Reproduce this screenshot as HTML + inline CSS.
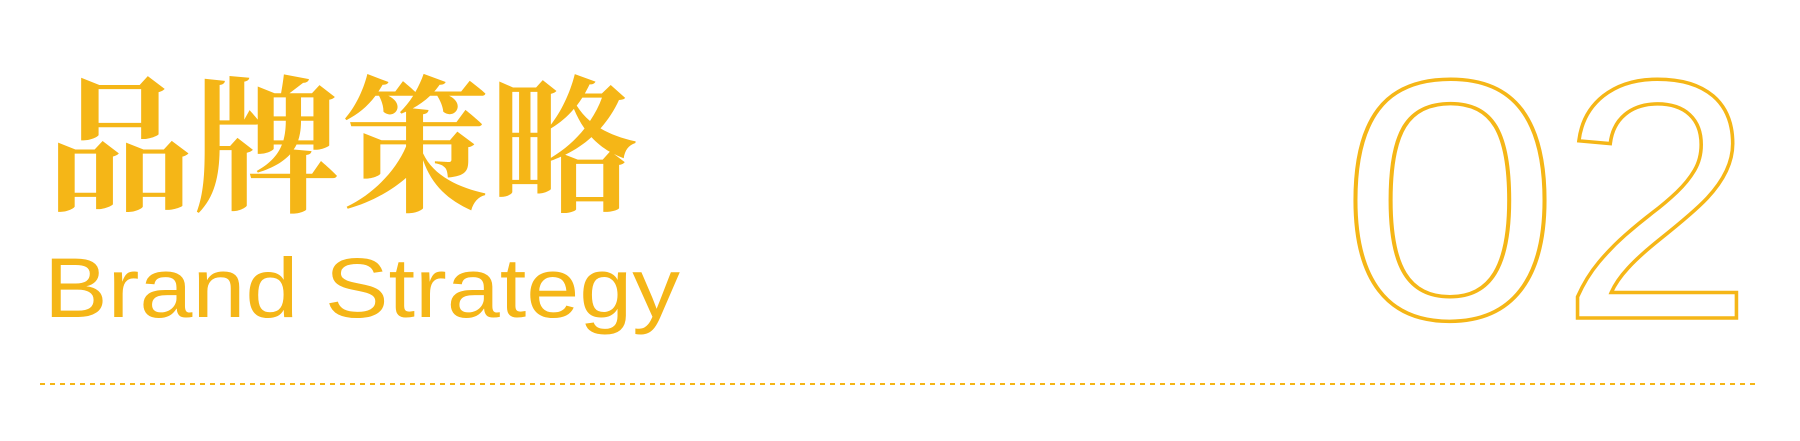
<!DOCTYPE html>
<html><head><meta charset="utf-8"><style>
html,body{margin:0;padding:0;background:#fff;width:1800px;height:441px;overflow:hidden}
</style></head><body>
<svg width="1800" height="441" viewBox="0 0 1800 441" xmlns="http://www.w3.org/2000/svg">
<text x="46" y="200" font-family="'Noto Serif CJK SC','Liberation Serif',serif" font-weight="700" font-size="148" fill="#f5b617" textLength="591" lengthAdjust="spacingAndGlyphs">品牌策略</text>
<text x="44" y="317" font-family="'Liberation Sans',sans-serif" font-size="84" fill="#f5b617" textLength="636" lengthAdjust="spacingAndGlyphs">Brand Strategy</text>
<text x="1340" y="318" font-family="'Liberation Sans',sans-serif" font-size="342" fill="none" stroke="#f5b617" stroke-width="3.5" textLength="220" lengthAdjust="spacingAndGlyphs">0</text>
<text x="1560" y="318" font-family="'Liberation Sans',sans-serif" font-size="342" fill="none" stroke="#f5b617" stroke-width="3.5" textLength="194" lengthAdjust="spacingAndGlyphs">2</text>
<line x1="40" y1="384" x2="1760" y2="384" stroke="#f5b617" stroke-width="2" stroke-dasharray="5 5"/>
</svg>
</body></html>
